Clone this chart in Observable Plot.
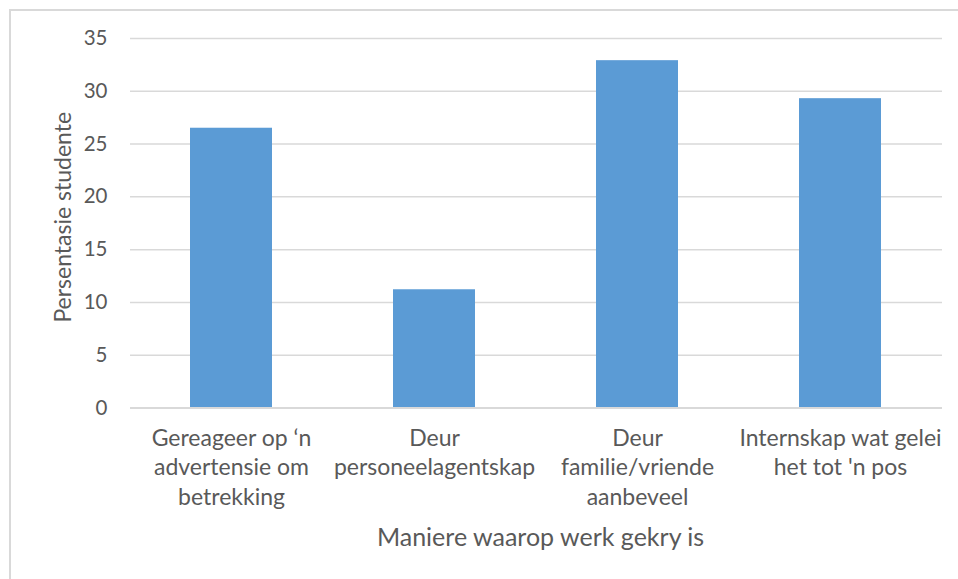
<!DOCTYPE html>
<html>
<head>
<meta charset="utf-8">
<script src="https://cdn.jsdelivr.net/npm/d3@7"></script>
<script src="https://cdn.jsdelivr.net/npm/@observablehq/plot@0.6"></script>
<style>
  html, body { margin: 0; padding: 0; background: #fff; }
  #wrap { position: relative; width: 958px; height: 579px; overflow: hidden; }
  #frame { position: absolute; left: 9px; top: 9px; width: 960px; height: 580px;
           border-left: 2px solid #d9d9d9; border-top: 2px solid #d9d9d9; box-sizing: border-box; }
  #chart { position: absolute; left: 0; top: 0; }
</style>
</head>
<body>
<div id="wrap"><div id="frame"></div><div id="chart"></div></div>
<script>
const categories = [
  "Gereageer op ‘n advertensie om betrekking",
  "Deur personeelagentskap",
  "Deur familie/vriende aanbeveel",
  "Internskap wat gelei het tot 'n pos"
];
const tickLabels = [
  "Gereageer op ‘n\nadvertensie om\nbetrekking",
  "Deur\npersoneelagentskap",
  "Deur\nfamilie/vriende\naanbeveel",
  "Internskap wat gelei\nhet tot 'n pos"
];
const values = [26.5, 11.2, 32.9, 29.3];
const yTicks = [0, 5, 10, 15, 20, 25, 30, 35];
const yTitle = "Persentasie studente";
const xTitle = "Maniere waarop werk gekry is";

const data = categories.map((c, i) => ({category: c, value: values[i]}));
const labelOf = new Map(categories.map((c, i) => [c, tickLabels[i]]));

const textColor = "#595959";
const font = "Lato, 'Open Sans', sans-serif";

const chart = Plot.plot({
  width: 958,
  height: 579,
  marginLeft: 130,
  marginRight: 16,
  marginTop: 38,
  marginBottom: 171.5,
  style: {fontFamily: font, color: textColor, background: "transparent", overflow: "visible"},
  x: {domain: categories, paddingInner: 0.596, paddingOuter: 0.298, label: null},
  y: {domain: [0, 35], ticks: yTicks, label: null},
  marks: [
    Plot.gridY(yTicks, {stroke: "#d9d9d9", strokeOpacity: 1, strokeWidth: 1.5}),
    Plot.barY(data, {x: "category", y: "value", fill: "#5b9bd5"}),
    Plot.ruleY([0], {stroke: "#d9d9d9", strokeWidth: 2}),
    Plot.axisY(yTicks, {tickSize: 0, tickPadding: 23, fontSize: 20.5, fill: textColor, label: null}),
    Plot.axisX({tickSize: 0, tickPadding: 17.5, fontSize: 23, lineHeight: 1.27, lineAnchor: "top", fill: textColor,
      tickFormat: d => labelOf.get(d), label: null}),
    Plot.text([yTitle], {frameAnchor: "left", textAnchor: "middle", lineAnchor: "middle", rotate: -90, dx: -67, dy: -6,
      fontSize: 23, fill: textColor, text: d => d}),
    Plot.text([xTitle], {frameAnchor: "bottom", textAnchor: "middle", lineAnchor: "middle", dx: 4, dy: 129.5,
      fontSize: 25, fill: textColor, text: d => d})
  ]
});
document.getElementById("chart").appendChild(chart);
</script>
</body>
</html>
